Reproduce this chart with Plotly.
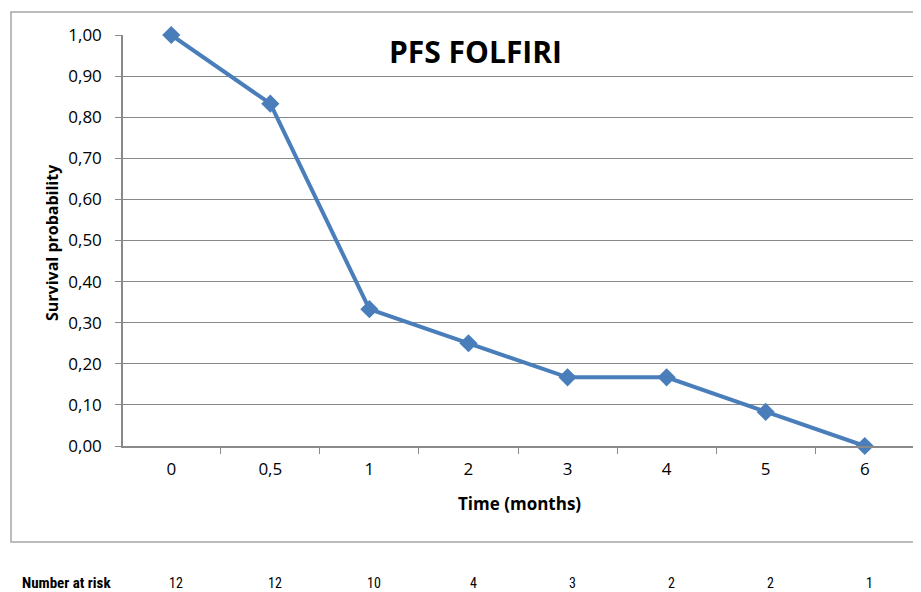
import plotly.graph_objects as go

# ---- data ----
time_labels = ["0", "0,5", "1", "2", "3", "4", "5", "6"]
survival = [1.0, 0.833, 0.333, 0.25, 0.167, 0.167, 0.083, 0.0]
at_risk = [12, 12, 10, 4, 3, 2, 2, 1]
y_ticks = [0.0, 0.1, 0.2, 0.3, 0.4, 0.5, 0.6, 0.7, 0.8, 0.9, 1.0]

OFF = 8  # page body margin
W, H = 921 - OFF, 592 - OFF
L, T = 123 - OFF, 35 - OFF
PLOT_RIGHT, PLOT_BOTTOM = 913 - OFF, 446 - OFF
R, B = W - PLOT_RIGHT, H - PLOT_BOTTOM
PW, PH = PLOT_RIGHT - L, PLOT_BOTTOM - T


def px(xp):
    return (xp - OFF - L) / PW


def py(yp):
    return (PLOT_BOTTOM - (yp - OFF)) / PH


BLUE = "#4A7EBB"
GRID = "#898989"
FONT = "Open Sans, Noto Sans, Liberation Sans, sans-serif"
NARROW = "Liberation Sans Narrow, Roboto Condensed, Liberation Sans, sans-serif"

fig = go.Figure()
fig.add_trace(go.Scatter(
    x=time_labels, y=survival, mode="lines+markers",
    line=dict(color=BLUE, width=4),
    marker=dict(symbol="diamond", size=14, color=BLUE),
    cliponaxis=False, showlegend=False,
))

annotations = [
    dict(text="<b>PFS FOLFIRI</b>", xref="paper", yref="paper",
         x=px(475), y=py(52), xanchor="center", yanchor="middle",
         showarrow=False, font=dict(family=FONT, size=30, color="black")),
    dict(text="<b>Survival probability</b>", xref="paper", yref="paper",
         x=px(52), y=py(243), xanchor="center", yanchor="middle",
         showarrow=False, textangle=-90,
         font=dict(family=FONT, size=16, color="black")),
    dict(text="<b>Time (months)</b>", xref="paper", yref="paper",
         x=px(519), y=py(503), xanchor="center", yanchor="middle",
         showarrow=False, font=dict(family=FONT, size=17, color="black")),
    dict(text="<b>Number at risk</b>", xref="paper", yref="paper",
         x=px(20), y=py(583), xanchor="left", yanchor="middle",
         showarrow=False, font=dict(family=NARROW, size=15, color="black")),
]
for i, n in enumerate(at_risk):
    annotations.append(dict(
        text=str(n), x=i, xref="x", yref="paper", y=py(583),
        xanchor="center", yanchor="middle", xshift=5, showarrow=False,
        font=dict(family=NARROW, size=14, color="black")))

fig.update_layout(
    width=W, height=H,
    margin=dict(l=L, r=R, t=T, b=B),
    paper_bgcolor="white", plot_bgcolor="white",
    separators=", ",
    font=dict(family=FONT, size=17, color="black"),
    annotations=annotations,
    shapes=[dict(type="rect", xref="paper", yref="paper",
                 x0=px(11), x1=px(960), y0=py(542), y1=py(12),
                 line=dict(color="#A6A6A6", width=1.5), layer="below")],
)
fig.update_xaxes(
    type="category", tickson="boundaries", ticks="outside", ticklen=6,
    tickcolor=GRID, showline=True, linecolor=GRID, linewidth=1.5,
    showgrid=False, tickfont=dict(family=FONT, size=17),
    ticklabelstandoff=7,
)
fig.update_yaxes(
    range=[0, 1], tickvals=y_ticks, tickformat=".2f", ticks="outside",
    ticklen=6, tickcolor=GRID, showline=True, linecolor=GRID, linewidth=1.5,
    showgrid=True, gridcolor=GRID, gridwidth=1.2, zeroline=False,
    tickfont=dict(family=FONT, size=17), ticklabelstandoff=10,
)

fig.write_html("out.html")
